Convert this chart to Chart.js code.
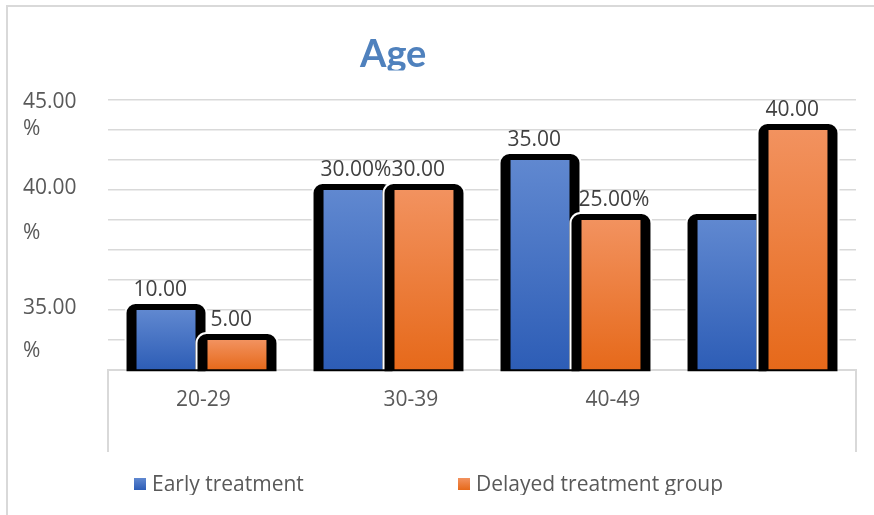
<!DOCTYPE html>
<html>
<head>
<meta charset="utf-8">
<script src="https://cdn.jsdelivr.net/npm/chart.js@4.4.1/dist/chart.umd.min.js"></script>
<style>
  html, body { margin: 0; padding: 0; background: #ffffff; }
  body { width: 874px; height: 515px; overflow: hidden; position: relative; }
  #frame { position: absolute; left: 6px; top: 5px; width: 900px; height: 540px;
           border-top: 2px solid #d9d9d9; border-left: 2px solid #d9d9d9; }
  #wrap { position: absolute; left: 0; top: 0; width: 874px; height: 515px; }
</style>
</head>
<body>
<div id="frame"></div>
<div id="wrap"><canvas id="chart" width="874" height="515"></canvas></div>
<script>
// ---- data ----
const chartTitle = 'Age';
const categories = ['20-29', '30-39', '40-49', ''];
const seriesNames = ['Early treatment', 'Delayed treatment group'];
const earlyValues = [10, 30, 35, 25];
const delayedValues = [5, 30, 25, 40];
const earlyLabels = ['10.00', '30.00%', '35.00', ''];
const delayedLabels = ['5.00', '30.00', '25.00%', '40.00'];
// value-axis label lines and where they sit on the 0-45 scale
const yTickText = ['45.00', '%', '40.00', '%', '35.00', '%'];
const yTickAt = [44.6, 40.2, 30.4, 22.9, 10.4, 3.2];
// category label positions, in category-index units
const xLabelAt = [0.01, 1.12, 2.2];

// ---- style ----
const FONT = "'Open Sans', sans-serif";
const FONT_SIZE = 21;
const GRID = '#d9d9d9';
const AXIS_TEXT = '#595959';
const VALUE_TEXT = '#404040';
const TITLE_COLOR = '#4f81bd';
const seriesTop = ['#6088d0', '#f2925f'];
const seriesBottom = ['#2d5db6', '#e6691a'];
const seriesSolid = ['#4472c4', '#ed7d31'];
const legendX = [134, 458];
const CLIP_BOTTOM = 495;

Chart.defaults.font.family = FONT;
Chart.defaults.font.size = FONT_SIZE;
Chart.defaults.color = AXIS_TEXT;

function barFill(si) {
  return (c) => {
    if (c.type !== 'data') return seriesSolid[si];
    const chart = c.chart;
    const ys = chart.scales && chart.scales.y;
    if (!chart.chartArea || !ys) return seriesSolid[si];
    const top = ys.getPixelForValue(c.parsed.y);
    const base = ys.getPixelForValue(0);
    if (!isFinite(top) || !isFinite(base) || top === base) return seriesSolid[si];
    const g = chart.ctx.createLinearGradient(0, top, 0, base);
    g.addColorStop(0, seriesTop[si]);
    g.addColorStop(1, seriesBottom[si]);
    return g;
  };
}

function roundTopRect(ctx, x, y, w, h, r) {
  ctx.beginPath();
  ctx.moveTo(x, y + h);
  ctx.lineTo(x, y + r);
  ctx.arcTo(x, y, x + r, y, r);
  ctx.lineTo(x + w - r, y);
  ctx.arcTo(x + w, y, x + w, y + r, r);
  ctx.lineTo(x + w, y + h);
  ctx.closePath();
}

const labelSets = [earlyLabels, delayedLabels];

const decor = {
  id: 'decor',
  beforeDraw(chart) {
    const ctx = chart.ctx;
    ctx.save();
    ctx.beginPath();
    ctx.rect(0, 0, chart.width, CLIP_BOTTOM);
    ctx.clip();
  },
  // heavy black rounded frame behind each bar; later series sits on top
  beforeDatasetsDraw(chart) {
    const ctx = chart.ctx;
    chart.data.datasets.forEach((ds, di) => {
      if (!chart.isDatasetVisible(di)) return;
      const meta = chart.getDatasetMeta(di);
      meta.data.forEach((bar) => {
        const p = bar.getProps(['x', 'y', 'base', 'width'], true);
        const l = p.x - p.width / 2 - 10;
        const w = p.width + 20;
        const t = p.y - 6;
        const h = p.base - t;
        ctx.fillStyle = '#ffffff';
        roundTopRect(ctx, l - 2, t - 2, w + 4, h + 2, 11);
        ctx.fill();
        ctx.fillStyle = '#000000';
        roundTopRect(ctx, l, t, w, h + 2, 9);
        ctx.fill();
      });
      meta.controller.draw();
    });
    return false;
  },
  afterDraw(chart) {
    const ctx = chart.ctx;

    // value labels above the bars, placed as if each read "xx.00%"
    ctx.save();
    ctx.font = FONT_SIZE + 'px ' + FONT;
    ctx.fillStyle = VALUE_TEXT;
    ctx.textAlign = 'left';
    ctx.textBaseline = 'middle';
    chart.data.datasets.forEach((ds, di) => {
      const meta = chart.getDatasetMeta(di);
      meta.data.forEach((bar, i) => {
        const txt = labelSets[di][i];
        if (!txt) return;
        const full = ds.data[i].toFixed(2) + '%';
        const w = ctx.measureText(full).width;
        ctx.fillText(txt, bar.x - w / 2 + 3, bar.y - 20);
      });
    });
    ctx.restore();

    // title, cut off along its lower edge
    ctx.save();
    ctx.beginPath();
    ctx.rect(0, 0, chart.width, 70.5);
    ctx.clip();
    ctx.font = "bold 38px Lato, sans-serif";
    ctx.fillStyle = TITLE_COLOR;
    ctx.textAlign = 'left';
    ctx.textBaseline = 'alphabetic';
    ctx.fillText(chartTitle, 360, 66.5);
    ctx.restore();

    // legend
    ctx.save();
    ctx.font = FONT_SIZE + 'px ' + FONT;
    ctx.textAlign = 'left';
    ctx.textBaseline = 'middle';
    chart.data.datasets.forEach((ds, di) => {
      const x = legendX[di];
      const g = ctx.createLinearGradient(0, 478, 0, 490);
      g.addColorStop(0, seriesTop[di]);
      g.addColorStop(1, seriesBottom[di]);
      ctx.fillStyle = g;
      ctx.fillRect(x, 478, 12, 12);
      ctx.fillStyle = AXIS_TEXT;
      ctx.fillText(ds.label, x + 18, 485);
    });
    ctx.restore();

    ctx.restore(); // bottom clip from beforeDraw
  }
};

new Chart(document.getElementById('chart'), {
  type: 'bar',
  data: {
    labels: categories,
    datasets: [
      { label: seriesNames[0], data: earlyValues, backgroundColor: barFill(0), borderWidth: 0,
        categoryPercentage: 0.759, barPercentage: 0.831 },
      { label: seriesNames[1], data: delayedValues, backgroundColor: barFill(1), borderWidth: 0,
        categoryPercentage: 0.759, barPercentage: 0.831 }
    ]
  },
  options: {
    responsive: false,
    animation: false,
    devicePixelRatio: 1,
    events: [],
    layout: { padding: { left: 23, right: 18, top: 100, bottom: 105 } },
    plugins: { legend: { display: false }, title: { display: false }, tooltip: { enabled: false } },
    scales: {
      x: { type: 'category', display: false, offset: true },
      y: {
        type: 'linear', position: 'left', min: 0, max: 45,
        ticks: { display: false, stepSize: 5 },
        grid: { color: GRID, lineWidth: 1.5, drawTicks: false },
        border: { display: false }
      },
      yLabels: {
        type: 'linear', position: 'left', min: 0, max: 45,
        grid: { display: false },
        border: { display: false },
        afterBuildTicks: (s) => { s.ticks = yTickAt.map((v) => ({ value: v })); },
        afterFit: (s) => { s.width = 85; },
        ticks: {
          autoSkip: false, crossAlign: 'far', padding: 0, color: AXIS_TEXT,
          callback: (v, i) => yTickText[i]
        }
      },
      xLabels: {
        type: 'linear', position: 'bottom', min: -0.5, max: 3.5, offset: false,
        grid: {
          offset: false, drawOnChartArea: false, tickLength: 82, lineWidth: 2,
          color: (c) => (c.index === 0 || c.index === xLabelAt.length + 1) ? GRID : 'rgba(0,0,0,0)'
        },
        border: { color: GRID, width: 2 },
        afterBuildTicks: (s) => { s.ticks = [-0.5, ...xLabelAt, 3.5].map((v) => ({ value: v })); },
        afterFit: (s) => { s.height = 40; },
        ticks: {
          autoSkip: false, maxRotation: 0, minRotation: 0, padding: -65, color: AXIS_TEXT,
          callback: (v, i) => (i > 0 && i <= xLabelAt.length) ? categories[i - 1] : ''
        }
      }
    }
  },
  plugins: [decor]
});
</script>
</body>
</html>
